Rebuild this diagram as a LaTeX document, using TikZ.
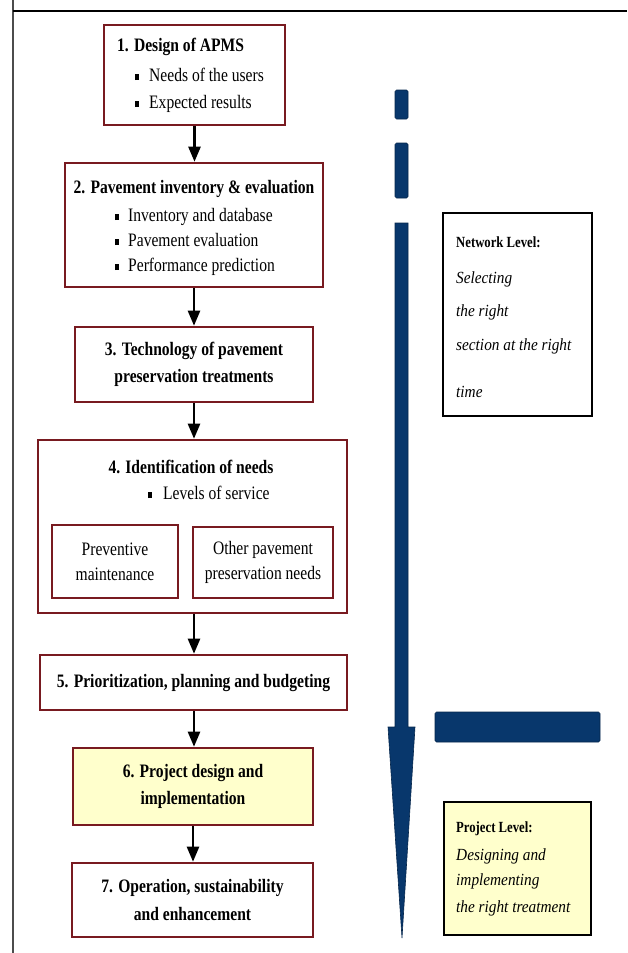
\documentclass[tikz,border=0pt]{standalone}
\usepackage{fontspec}
\setmainfont{Liberation Serif}[FakeStretch=0.82]
\newfontfamily\itfont{Liberation Serif}[FakeStretch=0.9]
\usetikzlibrary{arrows.meta}
\definecolor{boxred}{RGB}{120,26,32}
\definecolor{navy}{RGB}{8,55,108}
\definecolor{paleyel}{RGB}{255,255,204}
\newcommand\bul{\rule[1.5pt]{4pt}{6pt}}
\begin{document}
\begin{tikzpicture}[x=1pt,y=-1pt,
  box/.style={draw=boxred, line width=2.6pt, fill=white, inner sep=0pt, align=center,
    font=\fontsize{19}{27.5}\selectfont\bfseries},
  subbox/.style={box, font=\fontsize{19}{25}\selectfont},
  txt/.style={inner sep=0pt, anchor=west, text height=13pt, text depth=0pt,
    font=\fontsize{19}{27}\selectfont},
  lvlbox/.style={draw=black, line width=2.6pt, inner sep=0pt},
  lvltitle/.style={inner sep=0pt, anchor=west, text height=10pt, text depth=0pt,
    font=\fontsize{15.5}{20}\selectfont\bfseries},
  lvltxt/.style={inner sep=0pt, anchor=west, text height=10pt, text depth=0pt,
    font=\fontsize{17}{22}\selectfont\itfont\itshape},
  conn/.style={line width=2.4pt, -{Triangle[width=12pt,length=15pt]}},
  bluebar/.style={fill=navy, draw=navy!70!black, line width=0.6pt}]
\useasboundingbox (0,0) rectangle (627,953);
% frame
\draw[line width=2pt, black!70] (13,0) -- (13,953);
\draw[line width=2pt] (13,11) -- (627,11);

% box 1
\node[box, minimum width=181pt, minimum height=100pt] (b1) at (194.5,75) {};
\node[txt, font=\fontsize{19}{27}\selectfont\bfseries] (t1) at (117,45) {1. Design of APMS};
\node[txt] (t1a) at (135,75) {\bul\hspace{10pt}Needs of the users};
\node[txt] (t1b) at (135,102) {\bul\hspace{10pt}Expected results};

% box 2
\node[box, minimum width=258pt, minimum height=124pt] (b2) at (194,225) {};
\node[txt, anchor=center, font=\fontsize{19}{27}\selectfont\bfseries] (t2) at (194,187) {2. Pavement inventory \& evaluation};
\node[txt] (t2a) at (115,215) {\bul\hspace{9pt}Inventory and database};
\node[txt] (t2b) at (115,240) {\bul\hspace{9pt}Pavement evaluation};
\node[txt] (t2c) at (115,265) {\bul\hspace{9pt}Performance prediction};

% box 3
\node[box, minimum width=238pt, minimum height=75pt] (b3) at (194,364.5)
  {3. Technology of pavement\\preservation treatments};

% box 4
\node[box, minimum width=309pt, minimum height=173pt] (b4) at (192.5,526.5) {};
\node[txt, anchor=center, font=\fontsize{19}{27}\selectfont\bfseries] (t4) at (191,467) {4. Identification of needs};
\node[txt] (t4a) at (148,493) {\bul\hspace{11pt}Levels of service};
\node[subbox, minimum width=126pt, minimum height=73pt] (p4) at (115,561.5) {Preventive\\maintenance};
\node[subbox, minimum width=140pt, minimum height=71pt] (o4) at (263,562.5) {Other pavement\\preservation needs};

% box 5
\node[box, minimum width=307pt, minimum height=55pt] (b5) at (193.5,682.5)
  {5. Prioritization, planning and budgeting};

% box 6
\node[box, fill=paleyel, minimum width=240pt, minimum height=77pt] (b6) at (193,786.5)
  {6. Project design and\\implementation};

% box 7
\node[box, minimum width=241pt, minimum height=74pt] (b7) at (192.5,900)
  {7. Operation, sustainability\\and enhancement};

% connectors
\draw[conn] (b1.south) -- (b1.south |- b2.north);
\draw[conn] (b2.south) -- (b2.south |- b3.north);
\draw[conn] (b3.south) -- (b3.south |- b4.north);
\draw[conn] (b3.south |- b4.south) -- (b3.south |- b5.north);
\draw[conn] (b3.south |- b5.south) -- (b3.south |- b6.north);
\draw[conn] (b6.south) -- (b6.south |- b7.north);

% blue bars and arrow
\draw[bluebar, rounded corners=1.5pt] (395,90) rectangle (408,119);
\draw[bluebar, rounded corners=1.5pt] (395,143) rectangle (408,198);
\draw[bluebar] (395,223) -- (408,223) -- (408,727) -- (415,727) -- (402,938)
  -- (388,727) -- (395,727) -- cycle;
\draw[bluebar, rounded corners=1.5pt] (435,712) rectangle (600,742);

% network level box
\node[lvlbox, fill=white, minimum width=149pt, minimum height=203pt] (nl) at (517.5,314.5) {};
\node[lvltitle] (nl0) at (456,242) {Network Level:};
\node[lvltxt] (nl1) at (456,278) {Selecting};
\node[lvltxt] (nl2) at (456,311) {the right};
\node[lvltxt] (nl3) at (456,345) {section at the right};
\node[lvltxt] (nl4) at (456,392) {time};

% project level box
\node[lvlbox, fill=paleyel, minimum width=147pt, minimum height=133pt] (pl) at (517.5,868.5) {};
\node[lvltitle] (pl0) at (456,827) {Project Level:};
\node[lvltxt] (pl1) at (456,855) {Designing and};
\node[lvltxt] (pl2) at (456,880) {implementing};
\node[lvltxt] (pl3) at (456,907) {the right treatment};
\end{tikzpicture}
\end{document}
